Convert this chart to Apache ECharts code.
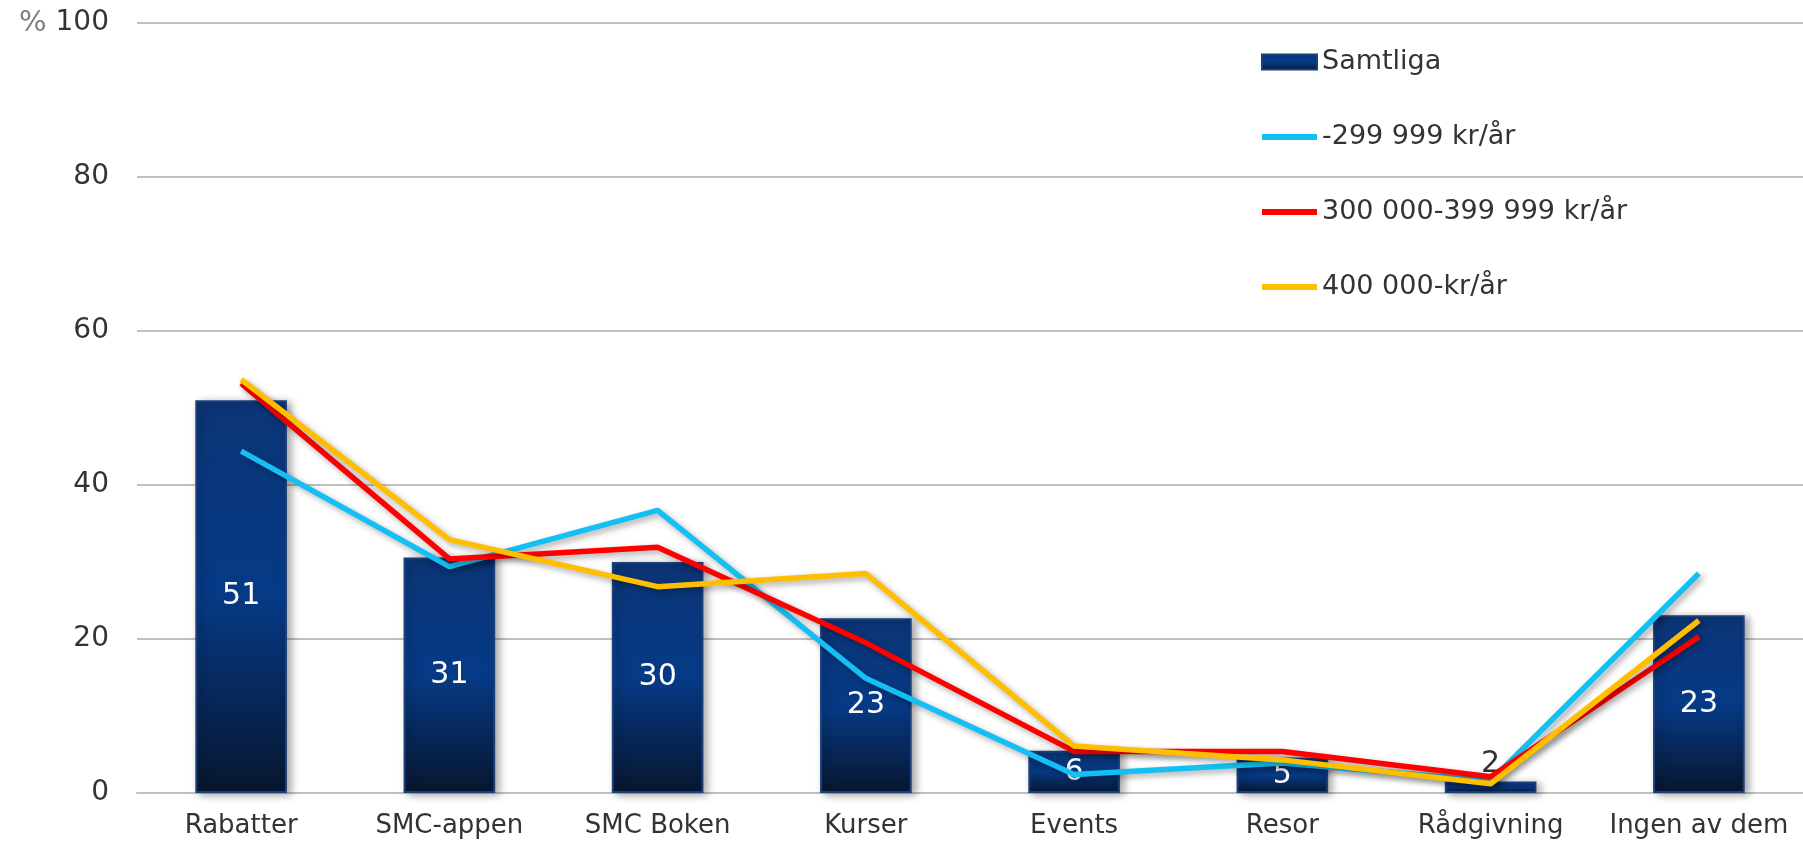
<!DOCTYPE html>
<html>
<head>
<meta charset="utf-8">
<script src="https://cdn.jsdelivr.net/npm/echarts@6/dist/echarts.min.js"></script>
<style>
  html, body { margin: 0; padding: 0; background: #fff; }
  #chart { width: 1803px; height: 846px; }
</style>
</head>
<body>
<div id="chart"></div>
<script>
// kategorier
const categories = ['Rabatter', 'SMC-appen', 'SMC Boken', 'Kurser', 'Events', 'Resor', 'Rådgivning', 'Ingen av dem'];
// staplar: samtliga
const samtliga = [51.0, 30.6, 30.0, 22.7, 5.5, 4.6, 1.5, 23.1];
// linjer per inkomstgrupp
const inkomstLag = [44.4, 29.4, 36.7, 14.9, 2.4, 3.9, 1.6, 28.5];
const inkomstMellan = [53.2, 30.4, 31.9, 19.5, 5.4, 5.4, 2.1, 20.3];
const inkomstHog = [53.7, 32.9, 26.8, 28.5, 6.1, 4.3, 1.2, 22.4];
const yTicks = [0, 20, 40, 60, 80, 100];

const font = 'DejaVu Sans, Verdana, sans-serif';
const chart = echarts.init(document.getElementById('chart'));

const barColor = new echarts.graphic.LinearGradient(0, 0, 0, 1, [
  { offset: 0, color: '#0b3577' },
  { offset: 0.5, color: '#063a86' },
  { offset: 1, color: '#08162f' }
]);

// tjock linje som legend-ikon (moveTo-punkterna ger ramen 55x15)
const lineIcon = 'path://M0,0 M55,15 M0,4.5 L55,4.5 L55,10.5 L0,10.5 Z';

function lineSeries(name, data, color) {
  return {
    name: name,
    type: 'line',
    data: data,
    symbol: 'none',
    z: 5,
    color: color,
    lineStyle: {
      width: 5.5,
      color: color,
      shadowColor: 'rgba(0,0,0,0.35)',
      shadowBlur: 6,
      shadowOffsetX: 3,
      shadowOffsetY: 3
    }
  };
}

const option = {
  animation: false,
  textStyle: { fontFamily: font },
  grid: { left: 137, right: 0, top: 23, bottom: 53 },
  legend: {
    orient: 'vertical',
    left: 1256,
    top: 42,
    itemWidth: 55,
    itemHeight: 15,
    itemGap: 45,
    textStyle: { fontSize: 27, color: '#333', lineHeight: 30, fontFamily: font },
    data: [
      { name: 'Samtliga', icon: 'rect' },
      { name: '-299 999 kr/år', icon: lineIcon },
      { name: '300 000-399 999 kr/år', icon: lineIcon },
      { name: '400 000-kr/år', icon: lineIcon }
    ]
  },
  xAxis: {
    type: 'category',
    data: categories,
    axisTick: { show: false },
    axisLine: { lineStyle: { color: '#c0c0c0', width: 2 } },
    axisLabel: { fontSize: 26, color: '#333', margin: 20, fontFamily: font, interval: 0 }
  },
  yAxis: {
    type: 'value',
    min: yTicks[0],
    max: yTicks[yTicks.length - 1],
    interval: 20,
    axisLine: { show: false },
    axisTick: { show: false },
    splitLine: { lineStyle: { color: '#c0c0c0', width: 2 } },
    axisLabel: {
      fontSize: 28,
      color: '#333',
      margin: 28,
      fontFamily: font,
      formatter: function (v) {
        return v === 100 ? '{p|%} {v|100}' : String(v);
      },
      rich: {
        p: { fontSize: 29, color: '#808080', fontFamily: font },
        v: { fontSize: 28, color: '#333', fontFamily: font }
      }
    }
  },
  series: [
    {
      name: 'Samtliga',
      type: 'bar',
      barWidth: '44%',
      z: 2,
      data: samtliga.map(function (v) {
        if (v < 3) {
          return { value: v, label: { position: 'top', color: '#333', distance: 2 } };
        }
        return v;
      }),
      itemStyle: {
        color: barColor,
        borderColor: '#1b3f78',
        borderWidth: 2,
        shadowColor: 'rgba(0,0,0,0.35)',
        shadowBlur: 8,
        shadowOffsetX: 4,
        shadowOffsetY: 2
      },
      label: {
        show: true,
        position: 'inside',
        color: '#fff',
        fontSize: 30,
        fontFamily: font,
        formatter: function (p) { return Math.round(p.value); }
      }
    },
    lineSeries('-299 999 kr/år', inkomstLag, '#14bff3'),
    lineSeries('300 000-399 999 kr/år', inkomstMellan, '#ff0000'),
    lineSeries('400 000-kr/år', inkomstHog, '#ffbf00')
  ]
};

chart.setOption(option);
</script>
</body>
</html>
